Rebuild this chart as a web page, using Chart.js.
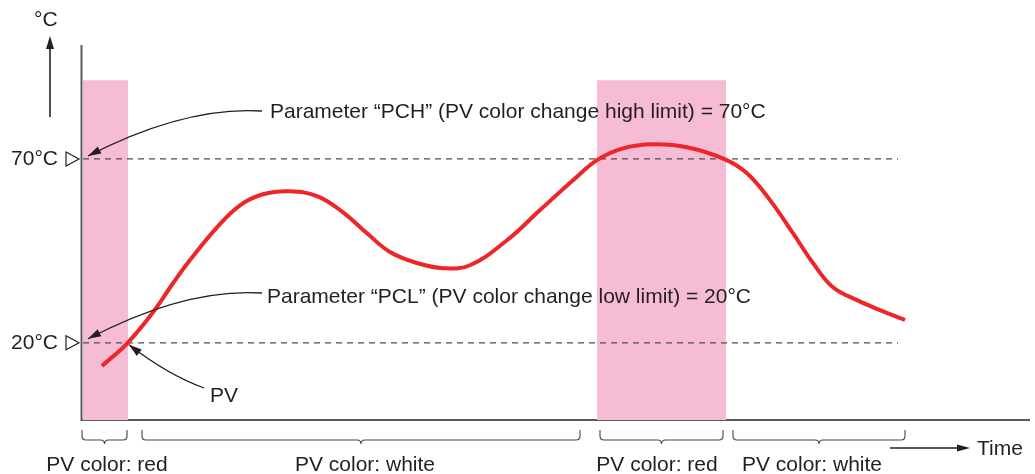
<!DOCTYPE html>
<html>
<head>
<meta charset="utf-8">
<script src="https://cdn.jsdelivr.net/npm/chart.js@4/dist/chart.umd.min.js"></script>
<style>
body { margin: 0; background: #fff; }
#wrap { width: 1035px; height: 474px; }
</style>
</head>
<body>
<div id="wrap"><canvas id="pvChart"></canvas></div>
<script>
// PV curve (time units, °C)
const pvTime = [2.0, 4.5, 7.1, 9.1, 10.8, 13.5, 15.8, 18.1, 20.8, 23.5, 26.1, 28.5, 30.8, 33.5, 36.1, 38.8, 42.5, 45.8, 49.1, 51.5, 54.1, 57.1, 60.5, 64.3, 66.5, 68.8, 71.1, 73.1, 75.1, 77.5, 79.8, 82.3]
const pvTemp = [13.7, 19.8, 28.3, 36.2, 42.5, 51.4, 57.4, 60.4, 61.2, 59.9, 55.5, 49.8, 44.7, 41.7, 40.3, 41.1, 47.9, 56.1, 64.2, 69.7, 72.9, 74.0, 73.2, 69.9, 66.1, 58.8, 49.8, 41.7, 35.1, 31.6, 28.9, 26.2]

const highLimit = 70
const lowLimit = 20
const limitStart = 0.1
const limitEnd = 81.6

// time spans where the PV shows red
const redBands = [[0.1, 4.6], [51.5, 64.4]]
const bandTop = 91.4

// brace spans and their labels under the time axis
const braceSpans = [[0, 4.5], [6.0, 49.8], [51.8, 64.1], [65.1, 82.3]]
const braceLabels = ['PV color: red', 'PV color: white', 'PV color: red', 'PV color: white']
const braceLabelAt = [2.5, 28.3, 57.5, 73.0]

const tickLabels = ['70°C', '20°C']
const pchText = 'Parameter \u201cPCH\u201d (PV color change high limit) = 70°C'
const pclText = 'Parameter \u201cPCL\u201d (PV color change low limit) = 20°C'

const ink = '#231f20'
const axisColor = '#5a5a5a'
const font = '21px "Liberation Sans", Arial, sans-serif'

const datasets = []

redBands.forEach(b => {
    datasets.push({
        data: [{x: b[0], y: bandTop}, {x: b[1], y: bandTop}],
        borderWidth: 0,
        pointRadius: 0,
        backgroundColor: '#f6bcd6',
        fill: 'start',
        order: 3
    })
})

;[highLimit, lowLimit].forEach(v => {
    datasets.push({
        data: [{x: limitStart, y: v}, {x: limitEnd, y: v}],
        borderColor: '#4d4d4d',
        borderWidth: 1.3,
        borderDash: [6, 5],
        pointRadius: 0,
        fill: false,
        order: 2
    })
})

datasets.push({
    data: pvTime.map((t, i) => ({x: t, y: pvTemp[i]})),
    borderColor: '#ee2529',
    borderWidth: 4,
    pointRadius: 0,
    tension: 0.4,
    fill: false,
    order: 1
})

function arrowHead(ctx, fromX, fromY, toX, toY, len, wid) {
    const a = Math.atan2(toY - fromY, toX - fromX)
    ctx.beginPath()
    ctx.moveTo(toX, toY)
    ctx.lineTo(toX - len * Math.cos(a) + wid / 2 * Math.sin(a), toY - len * Math.sin(a) - wid / 2 * Math.cos(a))
    ctx.lineTo(toX - len * Math.cos(a) - wid / 2 * Math.sin(a), toY - len * Math.sin(a) + wid / 2 * Math.cos(a))
    ctx.closePath()
    ctx.fill()
}

function curvedArrow(ctx, sx, sy, cx, cy, tx, ty) {
    ctx.beginPath()
    ctx.moveTo(sx, sy)
    ctx.quadraticCurveTo(cx, cy, tx, ty)
    ctx.stroke()
    arrowHead(ctx, cx, cy, tx, ty, 13, 8)
}

function brace(ctx, x1, x2, y) {
    const h = 10, r = 4, mid = (x1 + x2) / 2
    ctx.beginPath()
    ctx.moveTo(x1, y)
    ctx.lineTo(x1, y + h - r)
    ctx.quadraticCurveTo(x1, y + h, x1 + r, y + h)
    ctx.lineTo(mid - r, y + h)
    ctx.quadraticCurveTo(mid, y + h, mid, y + h + r)
    ctx.quadraticCurveTo(mid, y + h, mid + r, y + h)
    ctx.lineTo(x2 - r, y + h)
    ctx.quadraticCurveTo(x2, y + h, x2, y + h - r)
    ctx.lineTo(x2, y)
    ctx.stroke()
}

const axesBehind = {
    id: 'axesBehind',
    beforeDatasetsDraw(chart) {
        const {ctx, chartArea} = chart
        ctx.save()
        ctx.strokeStyle = axisColor
        ctx.lineWidth = 2
        ctx.beginPath()
        ctx.moveTo(chartArea.left - 0.5, chartArea.top)
        ctx.lineTo(chartArea.left - 0.5, chartArea.bottom)
        ctx.lineTo(chartArea.right - 2, chartArea.bottom)
        ctx.stroke()
        ctx.restore()
    }
}

const annotations = {
    id: 'annotations',
    afterDatasetsDraw(chart) {
        const {ctx, chartArea} = chart
        const xs = chart.scales.x
        const ys = chart.scales.y
        const left = chartArea.left
        const yHigh = ys.getPixelForValue(highLimit)
        const yLow = ys.getPixelForValue(lowLimit)
        ctx.save()
        ctx.fillStyle = ink
        ctx.strokeStyle = ink
        ctx.font = font
        ctx.textBaseline = 'middle'

        // y unit and arrow
        ctx.textAlign = 'left'
        ctx.fillText('°C', 34, 20)
        ctx.lineWidth = 1.6
        ctx.beginPath()
        ctx.moveTo(50, 117)
        ctx.lineTo(50, 45)
        ctx.stroke()
        arrowHead(ctx, 50, 117, 50, 36, 13, 8)

        // limit labels and open triangles
        ctx.textAlign = 'right'
        ;[yHigh, yLow].forEach((py, i) => {
            ctx.fillText(tickLabels[i], 58, py)
            ctx.lineWidth = 1.2
            ctx.beginPath()
            ctx.moveTo(66, py - 7)
            ctx.lineTo(79, py)
            ctx.lineTo(66, py + 7)
            ctx.closePath()
            ctx.fillStyle = '#fff'
            ctx.fill()
            ctx.stroke()
            ctx.fillStyle = ink
        })

        // parameter callouts
        ctx.textAlign = 'left'
        ctx.fillText(pchText, 270, 112)
        ctx.fillText(pclText, 267, 297)
        ctx.fillText('PV', 210, 396)
        ctx.lineWidth = 1.3
        curvedArrow(ctx, 262, 111, 185, 106, left + 6, yHigh - 3)
        curvedArrow(ctx, 262, 293, 185, 288, left + 6, yLow - 4)
        const crossX = xs.getPixelForValue(redBands[0][1]) + 1
        curvedArrow(ctx, 204, 388, 168, 375, crossX, yLow + 2)

        // braces and colour labels
        ctx.lineWidth = 1.1
        ctx.strokeStyle = '#444'
        ctx.textAlign = 'center'
        ctx.textBaseline = 'alphabetic'
        braceSpans.forEach((s, i) => {
            brace(ctx, xs.getPixelForValue(s[0]), xs.getPixelForValue(s[1]), 430)
            ctx.fillText(braceLabels[i], xs.getPixelForValue(braceLabelAt[i]), 471)
        })

        // time arrow
        ctx.strokeStyle = ink
        ctx.lineWidth = 1.4
        ctx.beginPath()
        ctx.moveTo(890, 448)
        ctx.lineTo(960, 448)
        ctx.stroke()
        arrowHead(ctx, 890, 448, 970, 448, 13, 7)
        ctx.textAlign = 'left'
        ctx.textBaseline = 'middle'
        ctx.fillText('Time', 977, 449)
        ctx.restore()
    }
}

new Chart(document.getElementById('pvChart'), {
    type: 'line',
    data: { datasets: datasets },
    options: {
        responsive: true,
        maintainAspectRatio: false,
        animation: false,
        layout: { padding: { left: 82, right: 3, top: 45, bottom: 54 } },
        plugins: { legend: { display: false }, tooltip: { enabled: false } },
        scales: {
            x: { type: 'linear', min: 0, max: 95, display: false },
            y: { min: -1, max: 101, display: false }
        }
    },
    plugins: [axesBehind, annotations]
})
</script>
</body>
</html>
